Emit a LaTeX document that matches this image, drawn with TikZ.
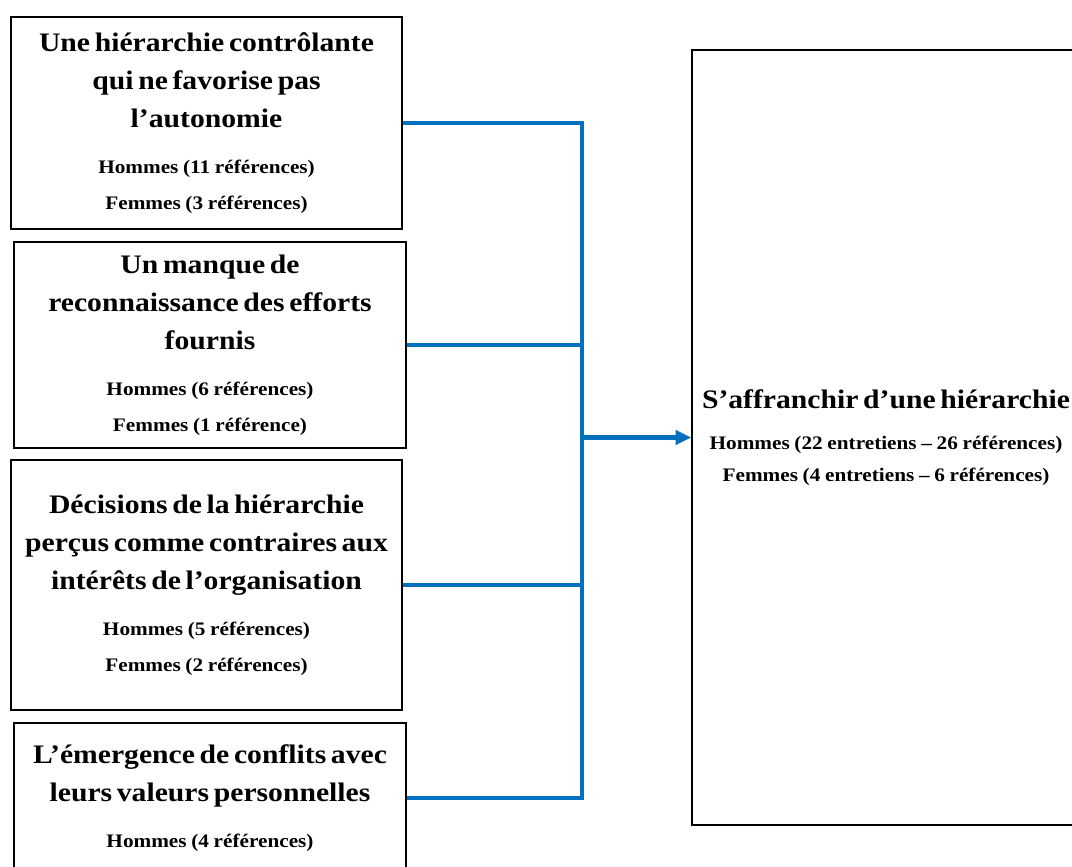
\documentclass[tikz,border=0pt]{standalone}
\usepackage{fontspec}
\setmainfont[FakeStretch=1.11]{Liberation Serif}
\usetikzlibrary{arrows.meta}
\definecolor{linkblue}{RGB}{0,112,192}
\newcommand{\titlefont}{\fontsize{19}{27}\selectfont\bfseries}
\newcommand{\subfont}{\fontsize{13.6}{25.6}\selectfont\bfseries}

\begin{document}
\begin{tikzpicture}[
		x=0.025cm, y=-0.025cm,
		every node/.style={rectangle, draw, line width=1.1pt, align=center, inner sep=0pt},
		causebox/.style={minimum width=9.8cm, text width=9.6cm},
		link/.style={draw=linkblue, line width=2.9pt}
	]
  \useasboundingbox (0,0) rectangle (1072,867);
  \node (hier) [causebox, minimum width=9.775cm, minimum height=5.3cm] at (206.5,123)
    {{\titlefont Une hiérarchie contrôlante\\ qui ne favorise pas\\ l’autonomie\par}\vspace{7pt}
     {\subfont Hommes (11 références)\\ Femmes (3 références)\par}};
  \node (effort) [causebox, minimum height=5.15cm] at (210,345)
    {{\titlefont Un manque de\\ reconnaissance des efforts\\ fournis\par}\vspace{7pt}
     {\subfont Hommes (6 références)\\ Femmes (1 référence)\par}};
  \node (decis) [causebox, minimum width=9.775cm, minimum height=6.25cm] at (206.5,585)
    {{\titlefont Décisions de la hiérarchie\\ perçus comme contraires aux\\ intérêts de l’organisation\par}\vspace{7pt}
     {\subfont Hommes (5 références)\\ Femmes (2 références)\par}\vspace{22pt}};
  \node (valeur) [causebox, minimum height=3.75cm] at (210,798)
    {{\titlefont L’émergence de conflits avec\\ leurs valeurs personnelles\par}\vspace{7pt}
     {\subfont Hommes (4 références)\par}};
  \node (goal) [minimum width=9.7cm, minimum height=19.375cm, text width=9.6cm] at (886,437.5)
    {{\titlefont S’affranchir d’une hiérarchie\par}\vspace{6pt}
     {\fontsize{13.6}{23}\selectfont\bfseries Hommes (22 entretiens – 26 références)\\ Femmes (4 entretiens – 6 références)\par}};
  \coordinate (hub) at (582,437.5);
  \draw[link] (hier.east) -| (hub);
  \draw[link] (effort.east) -| (hub);
  \draw[link] (decis.east) -| (hub);
  \draw[link] (valeur.east) -| (hub);
  \draw[link, -{Triangle[length=11pt, width=10pt]}] (hub) -- (goal.west);
\end{tikzpicture}
\end{document}
